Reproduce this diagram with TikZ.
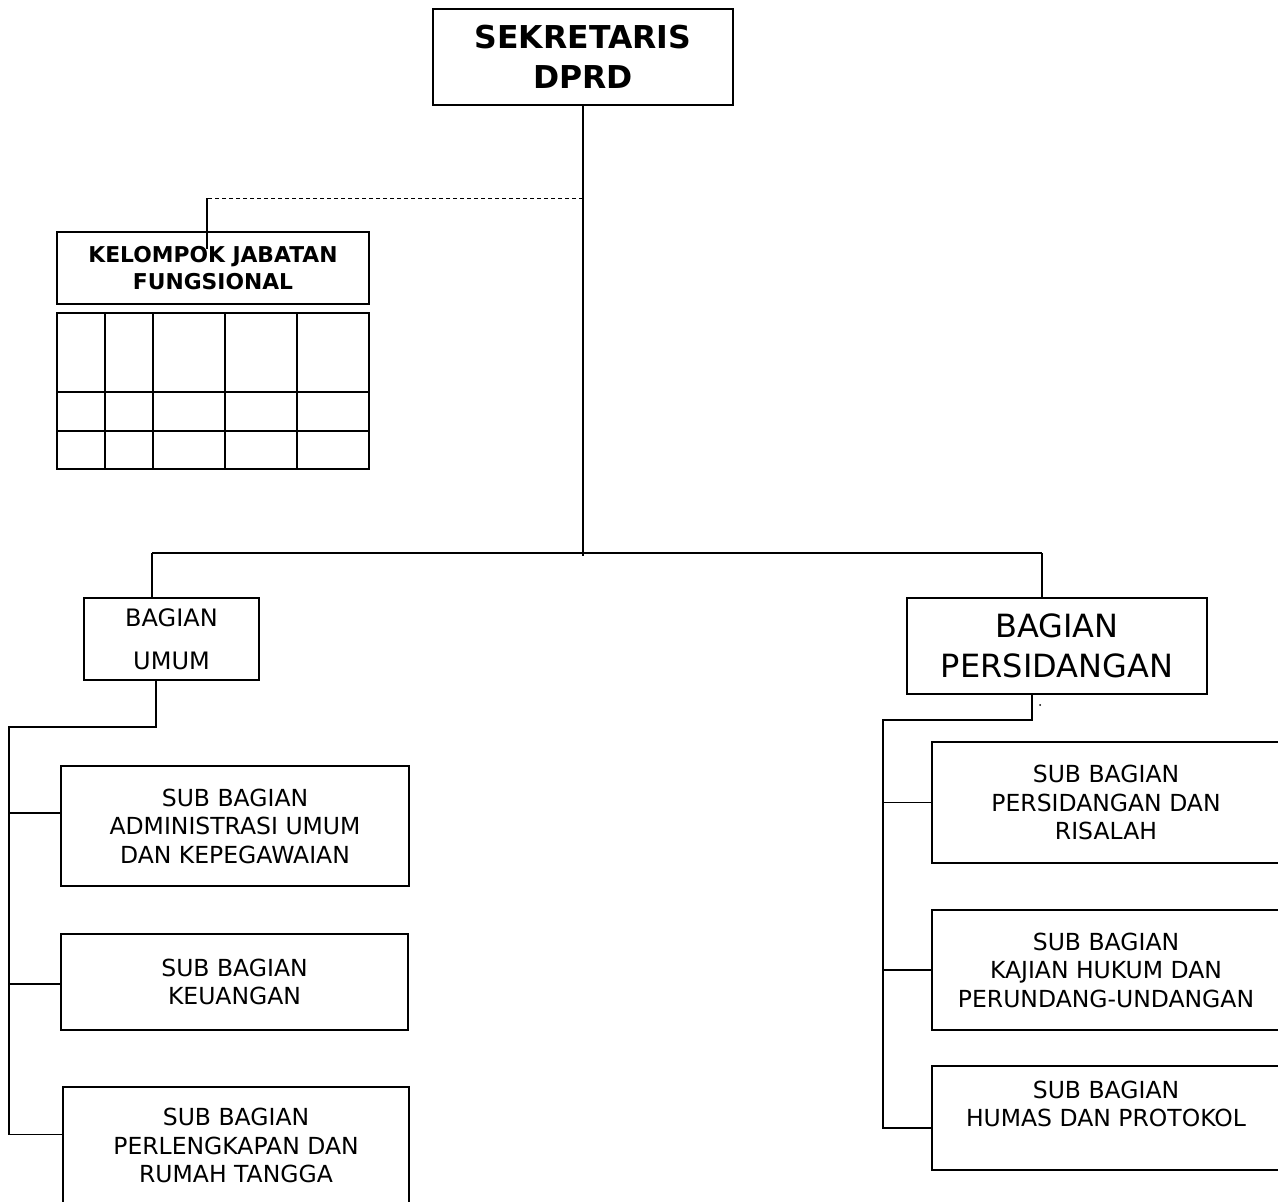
\documentclass[tikz,border=0pt]{standalone}
\usepackage{fontspec}
\setmainfont{DejaVu Sans}
\begin{document}
\begin{tikzpicture}
  [x=1pt,y=-1pt,
   box/.style={draw,rectangle,align=center,inner sep=0pt,line width=1.5pt},
   subbox/.style={box,minimum width=348pt,font=\fontsize{23.5}{28.5}\selectfont},
   tbl/.style={line width=2.2pt},
   link/.style={line width=1.8pt}]
  \useasboundingbox (0,0) rectangle (1278,1202);
  \node[box,minimum width=300pt,minimum height=96pt,font=\bfseries\fontsize{31.5}{40}\selectfont] (sek) at (583,57) {SEKRETARIS\\DPRD};
  \node[box,minimum width=312pt,minimum height=72pt,font=\bfseries\fontsize{21.8}{27}\selectfont] (kel) at (213,268) {KELOMPOK JABATAN\\FUNGSIONAL};
  \node[box,minimum width=175pt,minimum height=82pt,font=\fontsize{24}{43}\selectfont] (umum) at (171.5,639) {BAGIAN\\UMUM};
  \node[box,minimum width=300pt,minimum height=96pt,font=\fontsize{32}{40}\selectfont] (sidang) at (1057,646) {BAGIAN\\PERSIDANGAN};
  \node[subbox,minimum height=120pt] (adm) at (235,826) {SUB BAGIAN\\ADMINISTRASI UMUM\\DAN KEPEGAWAIAN};
  \node[subbox,minimum height=96pt,minimum width=347pt] (keu) at (234.5,982) {SUB BAGIAN\\KEUANGAN};
  \node[subbox,minimum height=117pt,minimum width=346pt] (rt) at (236,1145.5) {SUB BAGIAN\\PERLENGKAPAN DAN\\RUMAH TANGGA};
  \node[subbox,minimum height=121pt] (ris) at (1106,802.5) {SUB BAGIAN\\PERSIDANGAN DAN\\RISALAH};
  \node[subbox,minimum height=120pt] (huk) at (1106,970) {SUB BAGIAN\\KAJIAN HUKUM DAN\\PERUNDANG-UNDANGAN};
  \node[subbox,minimum height=104pt] (hum) at (1106,1118) {SUB BAGIAN\\HUMAS DAN PROTOKOL\\\mbox{}};

  % tabel jabatan fungsional
  \draw[tbl] (57,313) rectangle (369,469);
  \foreach \y in {392,431}
    \draw[tbl] (57,\y) -- (369,\y);
  \foreach \x in {105,153,225,297}
    \draw[tbl] (\x,313) -- (\x,469);

  \coordinate (hub) at (583,556);
  \coordinate (bl) at (152,553);
  \coordinate (br) at (1042,553);
  \coordinate (dj) at (583,198);
  \coordinate (dk) at (207,198);
  \coordinate (kt) at (207,249);
  \coordinate (ua) at (156,727);
  \coordinate (ul) at (9,727);
  \coordinate (ue) at (9,1135);
  \coordinate (ra) at (1032,720);
  \coordinate (rl) at (883,720);
  \coordinate (re) at (883,1129);

  \draw[link] (sek) -- (hub);
  \draw[link] (bl) -- (br);
  \draw[link] (bl) -- (bl |- umum.north);
  \draw[link] (br) -- (br |- sidang.north);
  \draw[line width=1pt,dash pattern=on 4pt off 3pt] (dj) -- (dk);
  \draw[link] (dk) -- (kt);
  \draw[link] (umum.south -| ua) -- (ua) -- (ul) -- (ue);
  \draw[link] (sidang.south -| ra) -- (ra) -- (rl) -- (re);
  \foreach \n/\s in {adm/13pt,keu/-2pt,rt/11pt}
    \draw[link] ([yshift=\s]\n.west) -- ([yshift=\s]\n.west -| ul);
  \foreach \n/\s in {ris/0pt,huk/0pt,hum/-10pt}
    \draw[link] ([yshift=\s]\n.west) -- ([yshift=\s]\n.west -| rl);
  \fill (1040,705) circle (1pt);
\end{tikzpicture}
\end{document}
